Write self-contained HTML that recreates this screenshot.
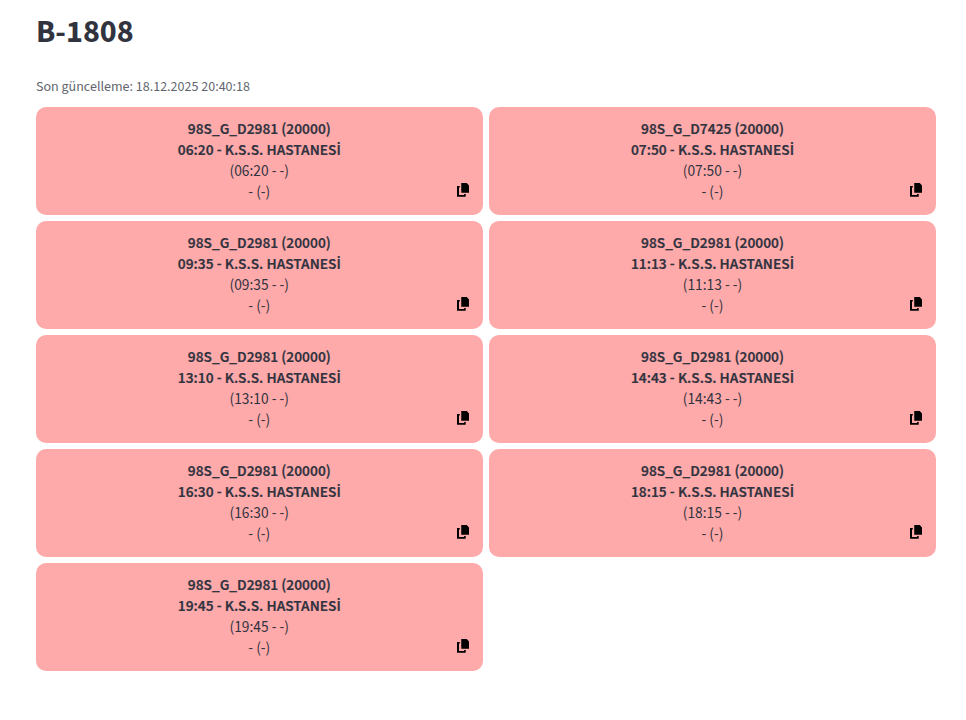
<!DOCTYPE html>
<html lang="tr">
<head>
<meta charset="utf-8">
<title>B-1808</title>
<style>
html,body{margin:0;padding:0;background:#ffffff;}
body{width:966px;height:720px;overflow:hidden;position:relative;
  font-family:"Source Sans 3","Source Sans Pro","Liberation Sans",sans-serif;color:#31333f;}
h1{position:absolute;left:36px;top:12px;margin:0;font-size:32px;line-height:40px;font-weight:700;color:#31333f;letter-spacing:0;}
.cap{position:absolute;left:36px;top:77px;margin:0;font-size:14px;line-height:20px;color:#62656e;font-weight:430;}
.card{position:absolute;width:446.6px;height:107.5px;background:#ffaaaa;border-radius:10px;text-align:center;font-size:15.4px;line-height:21px;font-weight:450;}
.card .t{position:absolute;left:0;right:0;top:12px;}
.card p{margin:0;}
.card b{font-weight:650;-webkit-text-stroke:0.2px #31333f;}
.card svg{position:absolute;left:421px;top:76px;width:12px;height:14px;overflow:visible;}
.l{left:36px;}
.r{left:489.2px;}
html.fb h1{font-size:29.7px;}
html.fb .cap{font-size:12.7px;}
html.fb .card{font-size:13.7px;}
</style>
<script>
(function(){try{var c=document.createElement('canvas').getContext('2d');var t='mmmmmmmmmmlli10OQwW';c.font='72px monospace';var a=c.measureText(t).width;c.font='72px "Source Sans 3", monospace';var b=c.measureText(t).width;if(Math.abs(a-b)<0.5){document.documentElement.className='fb';}}catch(e){}})();
</script>
</head>
<body>
<h1>B-1808</h1>
<p class="cap">Son güncelleme: 18.12.2025 20:40:18</p>

<div class="card l" style="top:107px"><div class="t"><p><b>98S_G_D2981 (20000)</b></p><p><b>06:20 - K.S.S. HASTANESİ</b></p><p>(06:20 - -)</p><p>- (-)</p></div><svg viewBox="0 0 12 14"><path d="M0 3.1H2.8V4.5H2V11.9H7.1V11.1H8.7V13.7H0Z M4.25 0H9.8L12 2.4V9.8H4.25Z" fill="#000"/></svg></div>
<div class="card r" style="top:107px"><div class="t"><p><b>98S_G_D7425 (20000)</b></p><p><b>07:50 - K.S.S. HASTANESİ</b></p><p>(07:50 - -)</p><p>- (-)</p></div><svg viewBox="0 0 12 14"><path d="M0 3.1H2.8V4.5H2V11.9H7.1V11.1H8.7V13.7H0Z M4.25 0H9.8L12 2.4V9.8H4.25Z" fill="#000"/></svg></div>

<div class="card l" style="top:221px"><div class="t"><p><b>98S_G_D2981 (20000)</b></p><p><b>09:35 - K.S.S. HASTANESİ</b></p><p>(09:35 - -)</p><p>- (-)</p></div><svg viewBox="0 0 12 14"><path d="M0 3.1H2.8V4.5H2V11.9H7.1V11.1H8.7V13.7H0Z M4.25 0H9.8L12 2.4V9.8H4.25Z" fill="#000"/></svg></div>
<div class="card r" style="top:221px"><div class="t"><p><b>98S_G_D2981 (20000)</b></p><p><b>11:13 - K.S.S. HASTANESİ</b></p><p>(11:13 - -)</p><p>- (-)</p></div><svg viewBox="0 0 12 14"><path d="M0 3.1H2.8V4.5H2V11.9H7.1V11.1H8.7V13.7H0Z M4.25 0H9.8L12 2.4V9.8H4.25Z" fill="#000"/></svg></div>

<div class="card l" style="top:335px"><div class="t"><p><b>98S_G_D2981 (20000)</b></p><p><b>13:10 - K.S.S. HASTANESİ</b></p><p>(13:10 - -)</p><p>- (-)</p></div><svg viewBox="0 0 12 14"><path d="M0 3.1H2.8V4.5H2V11.9H7.1V11.1H8.7V13.7H0Z M4.25 0H9.8L12 2.4V9.8H4.25Z" fill="#000"/></svg></div>
<div class="card r" style="top:335px"><div class="t"><p><b>98S_G_D2981 (20000)</b></p><p><b>14:43 - K.S.S. HASTANESİ</b></p><p>(14:43 - -)</p><p>- (-)</p></div><svg viewBox="0 0 12 14"><path d="M0 3.1H2.8V4.5H2V11.9H7.1V11.1H8.7V13.7H0Z M4.25 0H9.8L12 2.4V9.8H4.25Z" fill="#000"/></svg></div>

<div class="card l" style="top:449px"><div class="t"><p><b>98S_G_D2981 (20000)</b></p><p><b>16:30 - K.S.S. HASTANESİ</b></p><p>(16:30 - -)</p><p>- (-)</p></div><svg viewBox="0 0 12 14"><path d="M0 3.1H2.8V4.5H2V11.9H7.1V11.1H8.7V13.7H0Z M4.25 0H9.8L12 2.4V9.8H4.25Z" fill="#000"/></svg></div>
<div class="card r" style="top:449px"><div class="t"><p><b>98S_G_D2981 (20000)</b></p><p><b>18:15 - K.S.S. HASTANESİ</b></p><p>(18:15 - -)</p><p>- (-)</p></div><svg viewBox="0 0 12 14"><path d="M0 3.1H2.8V4.5H2V11.9H7.1V11.1H8.7V13.7H0Z M4.25 0H9.8L12 2.4V9.8H4.25Z" fill="#000"/></svg></div>

<div class="card l" style="top:563px"><div class="t"><p><b>98S_G_D2981 (20000)</b></p><p><b>19:45 - K.S.S. HASTANESİ</b></p><p>(19:45 - -)</p><p>- (-)</p></div><svg viewBox="0 0 12 14"><path d="M0 3.1H2.8V4.5H2V11.9H7.1V11.1H8.7V13.7H0Z M4.25 0H9.8L12 2.4V9.8H4.25Z" fill="#000"/></svg></div>
</body>
</html>
